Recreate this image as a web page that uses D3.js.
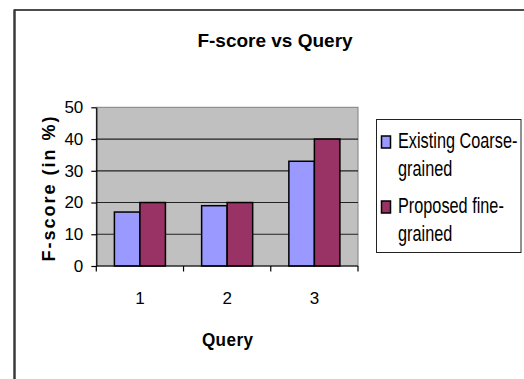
<!DOCTYPE html>
<html>
<head>
<meta charset="utf-8">
<script src="https://cdn.jsdelivr.net/npm/d3@7"></script>
<style>
  body { margin: 0; background: #fff; }
  text { font-family: "Liberation Sans", Arial, sans-serif; }
</style>
</head>
<body>
<svg id="drawing_region"></svg>
<script>
const categories = ["1", "2", "3"];
const seriesNames = ["Existing Coarse-grained", "Proposed fine-grained"];
const legendLines = [["Existing Coarse-", "grained"], ["Proposed fine-", "grained"]];
const existing = [17, 19, 33];
const proposed = [20, 20, 40];
const yTicks = [0, 10, 20, 30, 40, 50];
const colors = ["#9999FF", "#993366"];

const config = {
  width: 524,
  height: 379,
  plot: { left: 96.3, right: 358, top: 107.3, bottom: 266 }
};

const data = categories.map((c, i) => ({ cat: c, values: [existing[i], proposed[i]] }));

const svg = d3.select('#drawing_region')
  .attr('width', config.width)
  .attr('height', config.height);

// outer chart area frame (continues off the right / bottom edge)
svg.append('line').attr('x1', 14).attr('x2', 600).attr('y1', 10).attr('y2', 10)
  .attr('stroke', '#111').attr('stroke-width', 1.5);
svg.append('line').attr('x1', 14.5).attr('x2', 14.5).attr('y1', 9.5).attr('y2', 400)
  .attr('stroke', '#3a3a3a').attr('stroke-width', 2.5);

const p = config.plot;
const x0 = d3.scaleBand().domain(categories).range([p.left, p.right])
  .paddingInner(0.415).paddingOuter(0.2075);
const x1 = d3.scaleBand().domain([0, 1]).range([0, x0.bandwidth()]);
const y = d3.scaleLinear().domain([0, 50]).range([p.bottom, p.top]);

// plot background
svg.append('rect')
  .attr('x', p.left).attr('y', p.top)
  .attr('width', p.right - p.left).attr('height', p.bottom - p.top)
  .attr('fill', '#C0C0C0').attr('stroke', '#808080').attr('stroke-width', 1);

// gridlines
svg.append('g').selectAll('line')
  .data(yTicks.filter(t => t > 0 && t < 50))
  .enter().append('line')
  .attr('x1', p.left).attr('x2', p.right)
  .attr('y1', d => y(d)).attr('y2', d => y(d))
  .attr('stroke', '#222').attr('stroke-width', 1.2);

// bars
const groups = svg.append('g').selectAll('g')
  .data(data).enter().append('g')
  .attr('transform', d => `translate(${x0(d.cat)},0)`);
groups.selectAll('rect')
  .data(d => d.values.map((v, i) => ({ v: v, i: i })))
  .enter().append('rect')
  .attr('x', d => x1(d.i))
  .attr('y', d => y(d.v))
  .attr('width', x1.bandwidth())
  .attr('height', d => y(0) - y(d.v))
  .attr('fill', d => colors[d.i])
  .attr('stroke', '#000').attr('stroke-width', 1.5);

// y axis
const yAxis = svg.append('g')
  .attr('transform', `translate(${p.left},0)`)
  .call(d3.axisLeft(y).tickValues(yTicks).tickSize(5).tickSizeOuter(0).tickPadding(8));
yAxis.select('.domain').attr('stroke', '#000').attr('stroke-width', 1.2);
yAxis.selectAll('.tick line').attr('stroke', '#000').attr('stroke-width', 1.2);
yAxis.selectAll('text').attr('font-size', '17px').attr('fill', '#000')
  .style('font-family', '"Liberation Sans", Arial, sans-serif');

// x axis
const xAxis = svg.append('g')
  .attr('transform', `translate(0,${p.bottom})`)
  .call(d3.axisBottom(x0).tickSize(0).tickPadding(26));
xAxis.select('.domain').remove();
xAxis.selectAll('text').attr('font-size', '17px').attr('fill', '#000')
  .style('font-family', '"Liberation Sans", Arial, sans-serif');
svg.append('line').attr('x1', p.left).attr('x2', p.right)
  .attr('y1', p.bottom).attr('y2', p.bottom)
  .attr('stroke', '#000').attr('stroke-width', 1.2);
const bounds = d3.range(categories.length + 1).map(i => p.left + i * x0.step());
svg.append('g').selectAll('line').data(bounds).enter().append('line')
  .attr('x1', d => d).attr('x2', d => d)
  .attr('y1', p.bottom).attr('y2', p.bottom + 5.5)
  .attr('stroke', '#000').attr('stroke-width', 1.2);

// titles
svg.append('text')
  .attr('x', 275).attr('y', 46.7)
  .attr('text-anchor', 'middle')
  .attr('font-size', '19px').attr('font-weight', 'bold')
  .text('F-score vs Query');

svg.append('text')
  .attr('transform', `translate(227.7,346) scale(0.9,1)`)
  .attr('text-anchor', 'middle')
  .attr('font-size', '19px').attr('font-weight', 'bold')
  .attr('letter-spacing', '0.5px')
  .text('Query');

svg.append('text')
  .attr('transform', 'translate(55,188) rotate(-90)')
  .attr('text-anchor', 'middle')
  .attr('font-size', '18px').attr('font-weight', 'bold')
  .attr('letter-spacing', '2px')
  .text('F-score (in %)');

// legend
const legend = svg.append('g');
legend.append('rect')
  .attr('x', 376.5).attr('y', 119.5).attr('width', 144.5).attr('height', 133)
  .attr('fill', '#fff').attr('stroke', '#222').attr('stroke-width', 1);
const items = legend.selectAll('g.item')
  .data(seriesNames).enter().append('g')
  .attr('class', 'item')
  .attr('transform', (d, i) => `translate(0,${i * 65})`);
items.append('rect')
  .attr('x', 381.5).attr('y', 136)
  .attr('width', 9).attr('height', 12)
  .attr('fill', (d, i) => colors[i])
  .attr('stroke', '#000').attr('stroke-width', 1.5);
items.each(function (d, i) {
  d3.select(this).selectAll('text')
    .data(legendLines[i]).enter().append('text')
    .attr('transform', (t, j) => `translate(398,${148.3 + j * 27.5}) scale(0.74,1)`)
    .attr('font-size', '22px')
    .attr('fill', '#000')
    .text(t => t);
});
</script>
</body>
</html>
